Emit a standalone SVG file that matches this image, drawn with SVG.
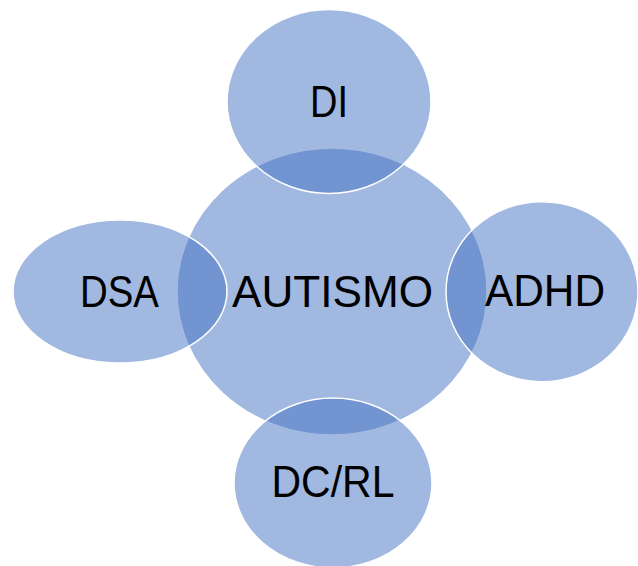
<svg xmlns="http://www.w3.org/2000/svg" width="638" height="566" viewBox="0 0 638 566">
<style>
.c{fill:#4472C4;fill-opacity:0.5;stroke:#FFFFFF;stroke-width:1.5}
.t{font-family:"Liberation Sans",Arial,sans-serif;font-size:44px;fill:#000000;text-anchor:middle}
</style>
<rect width="638" height="566" fill="#FFFFFF"/>
<g id="autismo"><ellipse class="c" cx="332" cy="291.5" rx="155" ry="143.5"/></g>
<g id="di"><ellipse class="c" cx="329" cy="101.5" rx="102" ry="92"/><text class="t" x="329" y="117" textLength="38" lengthAdjust="spacingAndGlyphs">DI</text></g>
<g id="dsa"><ellipse class="c" cx="120" cy="291.5" rx="107" ry="71.5"/><text class="t" x="119.5" y="307" textLength="79" lengthAdjust="spacingAndGlyphs">DSA</text></g>
<g id="adhd"><ellipse class="c" cx="542" cy="291.7" rx="96" ry="90"/><text class="t" x="545" y="306" textLength="120" lengthAdjust="spacingAndGlyphs">ADHD</text></g>
<g id="dcrl"><ellipse class="c" cx="333" cy="483" rx="99" ry="85"/><text class="t" x="333" y="497" textLength="123" lengthAdjust="spacingAndGlyphs">DC/RL</text></g>
<g id="label-autismo"><text class="t" x="332.5" y="307" textLength="201" lengthAdjust="spacingAndGlyphs">AUTISMO</text></g>
<g id="connectors"></g>
</svg>
